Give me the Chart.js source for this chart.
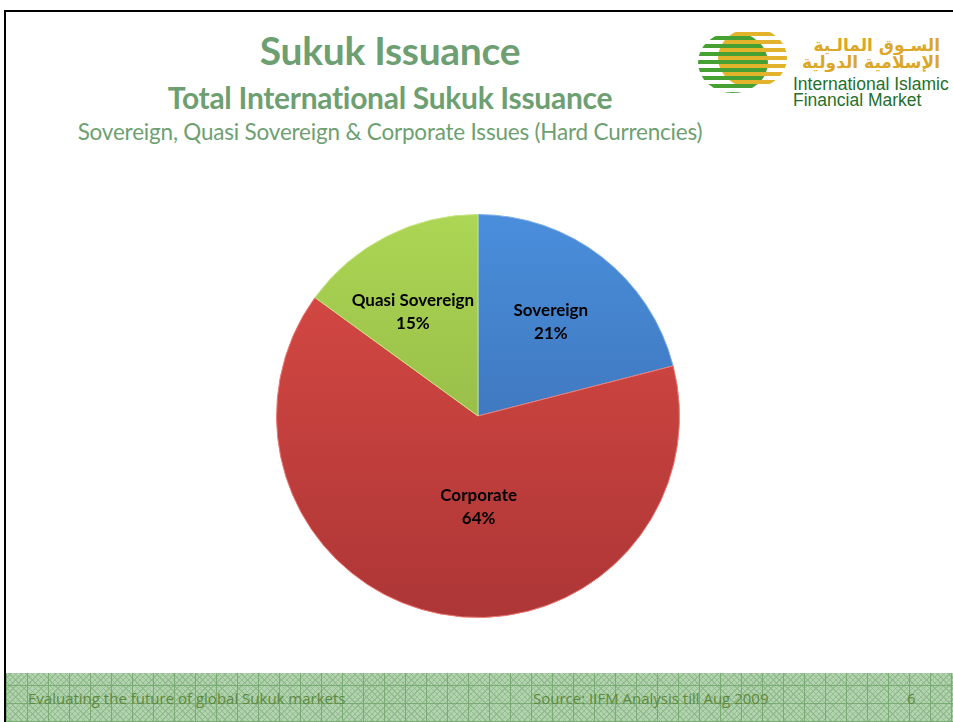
<!DOCTYPE html>
<html>
<head>
<meta charset="utf-8">
<script src="https://cdn.jsdelivr.net/npm/chart.js@4.4.1/dist/chart.umd.min.js"></script>
<style>
  html, body { margin:0; padding:0; background:#fff; }
  body { width:953px; height:722px; position:relative; overflow:hidden; font-family: Lato, "Open Sans", sans-serif; }
  .frameTop { position:absolute; left:4px; top:10px; width:949px; height:2px; background:#000; }
  .frameLeft { position:absolute; left:4px; top:10px; width:2px; height:712px; background:#000; }
  .t1, .t2, .t3 { position:absolute; left:0; width:780px; text-align:center; color:#6e9f72; white-space:nowrap; }
  .t1 { top:27px; font-size:39px; font-weight:700; letter-spacing:-0.3px; }
  .t2 { top:79px; font-size:30px; font-weight:700; letter-spacing:-0.3px; }
  .t3 { top:118px; font-size:22.5px; font-weight:400; letter-spacing:-0.2px; }
  #chartBox { position:absolute; left:276px; top:214px; width:404px; height:404px; }
  .footer { position:absolute; left:6px; top:673px; width:947px; height:49px;
    background-color:#b3d2af;
    background-image:
      repeating-linear-gradient(0deg, rgba(120,170,115,0.95) 0 1px, transparent 1px 18px),
      repeating-linear-gradient(90deg, rgba(120,170,115,0.95) 0 1px, transparent 1px 21px),
      repeating-linear-gradient(45deg, rgba(140,185,135,0.8) 0 1px, transparent 1px 4px),
      repeating-linear-gradient(-45deg, rgba(140,185,135,0.8) 0 1px, transparent 1px 4px);
  }
  .ft { position:absolute; top:688px; font-family:"Open Sans", sans-serif; font-size:15px; color:#5e8a3e; letter-spacing:0; white-space:nowrap; }
  .logo { position:absolute; left:698px; top:28px; width:90px; height:66px; }
  .circ { position:absolute; border-radius:50%; }
  .cg { left:0; top:4px; width:70px; height:61px;
    background: repeating-linear-gradient(180deg, transparent 0 4px, #47a032 4px 8px); }
  .cy { left:20px; top:0; width:69px; height:60px;
    background: repeating-linear-gradient(180deg, transparent 0 4px, #e3b32c 4px 8px); }
  .ar { position:absolute; top:37px; font-family:"DejaVu Sans", sans-serif; font-weight:bold; font-size:17px; line-height:17px; color:#dca727; direction:rtl; text-align:right; width:160px; left:780px; }
  .en { position:absolute; left:793px; top:76px; font-family:"Liberation Sans", Arial, sans-serif; font-size:17.5px; line-height:16px; color:#23702c; letter-spacing:0; white-space:nowrap; }
</style>
</head>
<body>
<div class="frameTop"></div>
<div class="frameLeft"></div>
<div class="t1">Sukuk Issuance</div>
<div class="t2">Total International Sukuk Issuance</div>
<div class="t3">Sovereign, Quasi Sovereign &amp; Corporate Issues (Hard Currencies)</div>

<div class="logo">
  <div class="circ cg"></div>
  <div class="circ cy"></div>
</div>
<div class="ar">السـوق المالـية<br>الإسلامية الدولية</div>
<div class="en">International Islamic<br>Financial Market</div>

<div id="chartBox"><canvas id="c" width="404" height="404"></canvas></div>

<div class="footer"></div>
<div class="ft" style="left:28px;">Evaluating the future of global Sukuk markets</div>
<div class="ft" style="left:533px;">Source: IIFM Analysis till Aug 2009</div>
<div class="ft" style="left:907px;">6</div>

<script>
const categories = ["Sovereign", "Corporate", "Quasi Sovereign"];
const shares = [21, 64, 15];
const percentLabels = ["21%", "64%", "15%"];

const topColors = ["#4a8edb", "#db4b45", "#acd654"];
const bottomColors = ["#3564a6", "#ad3636", "#86a83e"];

function grad(ctx, i) {
  const chart = ctx.chart;
  const area = chart.chartArea;
  if (!area) return topColors[i];
  const g = chart.ctx.createLinearGradient(0, area.top, 0, area.bottom);
  g.addColorStop(0, topColors[i]);
  g.addColorStop(1, bottomColors[i]);
  return g;
}

const labelPlugin = {
  id: 'sliceLabels',
  afterDatasetsDraw(chart, args, opts) {
    const ctx = chart.ctx;
    const meta = chart.getDatasetMeta(0);
    meta.data.forEach((arc, i) => {
      const p = arc.getProps(['x','y','startAngle','endAngle','outerRadius'], true);
      const mid = (p.startAngle + p.endAngle) / 2;
      const rr = p.outerRadius * opts.radiusFactor[i];
      const x = p.x + Math.cos(mid) * rr + opts.nudgeX[i];
      const y = p.y + Math.sin(mid) * rr;
      ctx.save();
      ctx.fillStyle = '#000';
      ctx.font = 'bold 17px Lato, "Open Sans", sans-serif';
      ctx.textAlign = 'center';
      ctx.textBaseline = 'middle';
      ctx.fillText(chart.data.labels[i], x, y - 11.5);
      ctx.fillText(percentLabels[i], x, y + 11.5);
      ctx.restore();
    });
  }
};

new Chart(document.getElementById('c'), {
  type: 'pie',
  data: {
    labels: categories,
    datasets: [{
      data: shares,
      backgroundColor: (ctx) => grad(ctx, ctx.dataIndex),
      borderColor: ["#7fb0ea", "#ec7a74", "#c6e584"],
      borderWidth: 1
    }]
  },
  options: {
    responsive: false,
    animation: false,
    layout: { padding: 0 },
    plugins: {
      legend: { display: false },
      tooltip: { enabled: false },
      sliceLabels: { radiusFactor: [0.59, 0.46, 0.58], nudgeX: [0, 18, -12] }
    }
  },
  plugins: [labelPlugin]
});
</script>
</body>
</html>
